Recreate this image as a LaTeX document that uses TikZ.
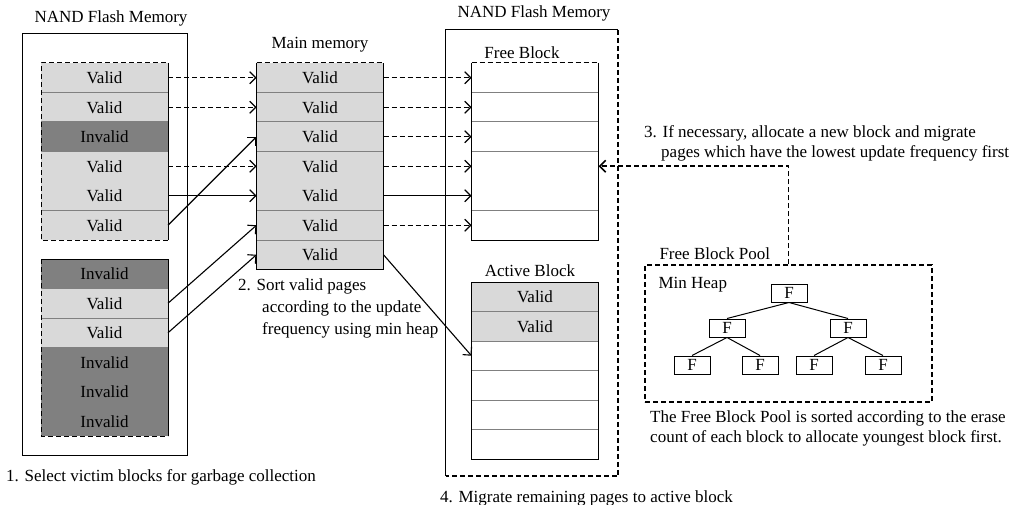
\documentclass[tikz,border=0pt]{standalone}
\usepackage{fontspec}
\setmainfont{Liberation Serif}
\usetikzlibrary{arrows.meta}

\definecolor{validgray}{RGB}{217,217,217}
\definecolor{invalidgray}{RGB}{128,128,128}

\tikzset{
  page/.style={rectangle, minimum width=127pt, minimum height=29.5pt, inner sep=0pt, outer sep=0pt},
  valid/.style={page, fill=validgray},
  invalid/.style={page, fill=invalidgray},
  blank/.style={page},
  sep/.style={draw=black!50, line width=1pt},
  edge/.style={line width=1pt},
  dashline/.style={dash pattern=on 5pt off 3pt},
  thickdash/.style={dash pattern=on 5pt off 3pt, line width=1.7pt},
  heapnode/.style={rectangle, draw, line width=1pt, minimum width=36pt, minimum height=18pt, inner sep=0pt},
  mv/.style={-{Straight Barb[length=6pt,width=12pt]}, line width=1.1pt},
  txt/.style={inner sep=0pt, align=left},
}

\begin{document}
\begin{tikzpicture}[x=1pt, y=-1pt, font=\fontsize{17}{20}\selectfont]

        \useasboundingbox (0,0) rectangle (1022,505);

        % victim blocks in flash
        \node[draw, edge, minimum width=165pt, minimum height=421pt] (nandL) at (104.5,244.5) {};
        \node (nandLlbl) at (111,18) {NAND Flash Memory};

        \node[valid] (a1) at (104.5,77.75) {Valid};
        \node[valid] (a2) at (104.5,107.25) {Valid};
        \node[invalid] (a3) at (104.5,136.75) {Invalid};
        \node[valid] (a4) at (104.5,166.25) {Valid};
        \node[valid] (a5) at (104.5,195.75) {Valid};
        \node[valid] (a6) at (104.5,225.25) {Valid};

        \node[invalid] (b1) at (104.5,273.75) {Invalid};
        \node[valid] (b2) at (104.5,303.25) {Valid};
        \node[valid] (b3) at (104.5,332.75) {Valid};
        \node[invalid] (b4) at (104.5,362.25) {Invalid};
        \node[invalid] (b5) at (104.5,391.75) {Invalid};
        \node[invalid] (b6) at (104.5,421.25) {Invalid};

        % main memory
        \node (mmlbl) at (320,45) {Main memory};
        \node[valid] (m1) at (320,77.75) {Valid};
        \node[valid] (m2) at (320,107.25) {Valid};
        \node[valid] (m3) at (320,136.75) {Valid};
        \node[valid] (m4) at (320,166.25) {Valid};
        \node[valid] (m5) at (320,195.75) {Valid};
        \node[valid] (m6) at (320,225.25) {Valid};
        \node[valid] (m7) at (320,254.75) {Valid};

        % destination flash
        \node (nandRlbl) at (534,13) {NAND Flash Memory};
        \node[minimum width=172pt, minimum height=446pt] (nandR) at (532,253) {};

        \node (freelbl) at (522,53) {Free Block};
        \node[blank] (f1) at (535,77.75) {};
        \node[blank] (f2) at (535,107.25) {};
        \node[blank] (f3) at (535,136.75) {};
        \node[blank] (f4) at (535,166.25) {};
        \node[blank] (f5) at (535,195.75) {};
        \node[blank] (f6) at (535,225.25) {};

        \node (activelbl) at (530,271) {Active Block};
        \node[valid] (t1) at (535,296.75) {Valid};
        \node[valid] (t2) at (535,326.25) {Valid};
        \node[blank] (t3) at (535,355.75) {};
        \node[blank] (t4) at (535,385.25) {};
        \node[blank] (t5) at (535,414.75) {};
        \node[blank] (t6) at (535,444.25) {};

        % row separators
        \foreach \r in {a1,a2,a3,a5,b1,b2,b3,b4,b5,m1,m2,m3,m5,m6,f1,f2,f3,f5,t1,t2,t3,t4,t5}
            \draw[sep] (\r.south west) -- (\r.south east);

        % block outlines
        \draw[edge, dashline] (a6.south east) -- (a6.south west) -- (a1.north west) -- (a1.north east);
        \draw[edge] (a1.north east) -- (a6.south east);
        \draw[edge, dashline] (b1.north west) -- (b6.south west) -- (b6.south east);
        \draw[edge] (b1.north west) -- (b1.north east) -- (b6.south east);
        \draw[edge, dashline] (m1.north west) -- (m1.north east);
        \draw[edge] (m1.north west) -- (m7.south west) -- (m7.south east) -- (m1.north east);
        \draw[edge, dashline] (f1.north west) -- (f1.north east);
        \draw[edge] (f1.north west) -- (f6.south west) -- (f6.south east) -- (f1.north east);
        \draw[edge] (t1.north west) rectangle (t6.south east);

        \draw[edge] (nandR.south west) -- (nandR.north west) -- (nandR.north east);
        \draw[thickdash] (nandR.north east) -- (nandR.south east) -- (nandR.south west);

        % free block pool
        \node[anchor=west] (poollbl) at (656,254) {Free Block Pool};
        \node[draw, dashline, line width=1.4pt, minimum width=287pt, minimum height=137pt] (pool) at (788.5,333.5) {};
        \node[anchor=west] (heaplbl) at (655,285) {Min Heap};
        \node[heapnode] (h0) at (789,293) {F};
        \node[heapnode] (h1) at (727,328) {F};
        \node[heapnode] (h2) at (848,328) {F};
        \node[heapnode] (h3) at (692,365) {F};
        \node[heapnode] (h4) at (760,365) {F};
        \node[heapnode] (h5) at (814,365) {F};
        \node[heapnode] (h6) at (883,365) {F};
        \draw[edge] (h0.south) -- (h1.north);
        \draw[edge] (h0.south) -- (h2.north);
        \draw[edge] (h1.south) -- (h3.north);
        \draw[edge] (h1.south) -- (h4.north);
        \draw[edge] (h2.south) -- (h5.north);
        \draw[edge] (h2.south) -- (h6.north);

        % copying valid pages
        \draw[mv, dashline] (a1.east) -- (m1.west);
        \draw[mv, dashline] (a2.east) -- (m2.west);
        \draw[mv, dashline] (a4.east) -- (m4.west);
        \draw[mv] (a5.east) -- (m5.west);
        \draw[mv] (a6.east) -- (m3.west);
        \draw[mv] (b2.east) -- (m6.west);
        \draw[mv] (b3.east) -- (m7.west);

        \draw[mv, dashline] (m1.east) -- (f1.west);
        \draw[mv, dashline] (m2.east) -- (f2.west);
        \draw[mv, dashline] (m3.east) -- (f3.west);
        \draw[mv, dashline] (m4.east) -- (f4.west);
        \draw[mv] (m5.east) -- (f5.west);
        \draw[mv, dashline] (m6.east) -- (f6.west);
        \draw[mv] (m7.east) -- (t3.west);

        \draw[mv, thickdash] (pool.north) |- (f4.east);

        % step captions
        \node[txt, anchor=west] (step1) at (6,477) {1. Select victim blocks for garbage collection};
        \node[txt, anchor=north west] (step2) at (238,279) {2. Sort valid pages\\[2pt]\hspace*{24pt}according to the update\\[2pt]\hspace*{24pt}frequency using min heap};
        \node[txt, anchor=north west] (step3) at (644,125) {3. If necessary, allocate a new block and migrate\\\hspace*{17pt}pages which have the lowest update frequency first};
        \node[txt, anchor=west] (step4) at (440,498) {4. Migrate remaining pages to active block};
        \node[txt, anchor=north west] (poolnote) at (650,411) {The Free Block Pool is sorted according to the erase\\count of each block to allocate youngest block first.};

    \end{tikzpicture}
\end{document}
